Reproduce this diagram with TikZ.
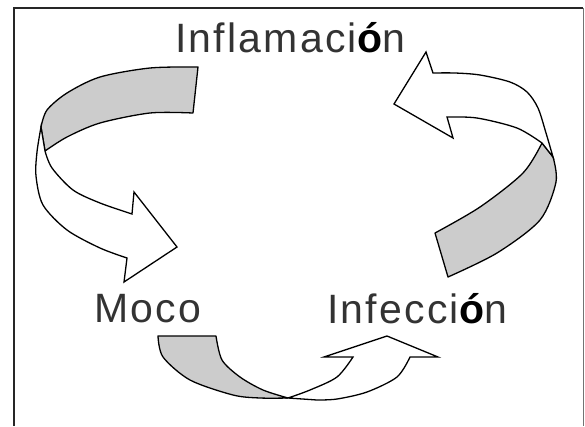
\documentclass[tikz,border=0pt]{standalone}
\usepackage{fontspec}
\setmainfont{Liberation Sans}
\newfontfamily\lsf[LetterSpace=5.5]{Liberation Sans}
\definecolor{txtgray}{HTML}{333333}
\definecolor{bandgray}{HTML}{CCCCCC}
\begin{document}
\begin{tikzpicture}[x=1pt,y=-1pt,
  lbl/.style={anchor=base,inner sep=0pt,text=txtgray,font=\fontsize{41}{44}\lsf},
  band/.style={draw=black,line width=1.3pt,line join=round,fill=bandgray},
  ribbon/.style={draw=black,line width=1.3pt,line join=miter,fill=white},
  framel/.style={draw=black!85,line width=2pt}]
\useasboundingbox (0,0) rectangle (585,426);
% frame
\draw[framel] (14,426) -- (14,8) -- (583,8);
\draw[draw=black!55,line width=1pt] (583,8) -- (583,426);
% labels
\node[lbl] (infl) at (290,52) {Inflamaci{\color{black}\bfseries ó}n};
\node[lbl] (moco) at (148,322) {Moco};
\node[lbl] (infe) at (417,323) {Infecci{\color{black}\bfseries ó}n};
% top-left arrow (Inflamacion -> Moco)
\draw[band] plot[smooth] coordinates {(198,67)(150,68)(100,77)(67,93)(47,110)(41,127)}
  -- plot[smooth] coordinates {(45,151)(67,137)(100,123)(150,113)(193,113)} -- cycle;
\draw[ribbon] plot[smooth] coordinates {(41,127)(37,152)(36,176)(43,205)(67,230)(100,248)(127,258)}
  -- (124,282) -- (177,247) -- (134,192) -- (132,214)
  -- plot[smooth] coordinates {(132,214)(100,203)(73,190)(52,168)(45,151)} -- cycle;
% right arrow (Infeccion -> Inflamacion)
\draw[band] plot[smooth] coordinates {(435,233)(480,207)(523,173)(542,143)}
  -- plot[smooth] coordinates {(553,157)(556,182)(540,220)(497,253)(448,277)} -- cycle;
\draw[ribbon] plot[smooth] coordinates {(553,157)(546,133)(538,108)(527,92)(510,82)(480,75)(455,73)(433,73)}
  -- (426,52) -- (394,104) -- (453,138) -- (447,117)
  -- plot[smooth] coordinates {(447,117)(477,118)(517,128)(542,143)} -- cycle;
% bottom arrow (Moco -> Infeccion)
\draw[band] (158,336) -- plot[smooth] coordinates {(216,336)(222,360)(240,377)(263,390)(288,398)}
  -- plot[smooth] coordinates {(288,398)(260,398)(233,395)(190,380)(163,357)(158,336)} -- cycle;
\draw[ribbon] plot[smooth] coordinates {(288,398)(310,390)(337,377)(353,357)}
  -- (324,357) -- (387,336) -- (438,357) -- (410,357)
  -- plot[smooth] coordinates {(410,357)(397,377)(367,392)(337,399)(317,400)} -- cycle;
\end{tikzpicture}
\end{document}
